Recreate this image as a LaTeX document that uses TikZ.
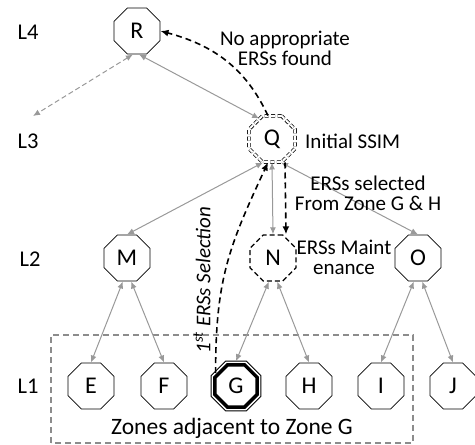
\documentclass[tikz,border=0pt]{standalone}
\usepackage{fontspec}
\setmainfont{Carlito}
\usetikzlibrary{shapes.geometric,arrows.meta}
\definecolor{garr}{gray}{0.6}
\definecolor{gbox}{gray}{0.55}
\begin{document}
\begin{tikzpicture}[x=1pt,y=1pt,
  oct/.style={regular polygon, regular polygon sides=8, draw, line width=0.8pt,
    minimum size=50pt, inner sep=0pt, font=\fontsize{24}{26}\selectfont},
  lbl/.style={font=\fontsize{21}{20}\selectfont, align=center, inner sep=0pt},
  garrow/.style={draw=garr, line width=1pt, {Latex[length=7pt,width=6pt]}-{Latex[length=7pt,width=6pt]}},
  barrow/.style={draw=black, line width=1.6pt, dash pattern=on 6pt off 4pt, -{Latex[length=8pt,width=7pt]}},
]
\useasboundingbox (0,0) rectangle (475,445);

% zone box
\draw[gbox, line width=1.2pt, dash pattern=on 6pt off 4pt] (51,2) rectangle (413,110);
\node[lbl, font=\fontsize{23.5}{24}\selectfont] (zlbl) at (232,17) {Zones adjacent to Zone G};

% level labels
\node[lbl, font=\fontsize{22.5}{24}\selectfont] (L4) at (28,413) {L4};
\node[lbl, font=\fontsize{22.5}{24}\selectfont] (L3) at (28,304) {L3};
\node[lbl, font=\fontsize{22.5}{24}\selectfont] (L2) at (30,186) {L2};
\node[lbl, font=\fontsize{22.5}{24}\selectfont] (L1) at (28,59) {L1};

% nodes
\node[oct] (R) at (137,414) {R};
\node[oct, line width=0.8pt, double, double distance=2pt, dash pattern=on 4pt off 2.5pt] (Q) at (272,306) {Q};
\node[oct] (M) at (127,187) {M};
\node[oct, line width=1.2pt, dash pattern=on 5pt off 3pt] (N) at (273,187) {N};
\node[oct] (O) at (418,187) {O};
\node[oct] (E) at (91,59) {E};
\node[oct] (F) at (164,59) {F};
\node[oct, line width=3.5pt, minimum size=45.5pt] (G) at (236,59) {G};
\draw[line width=0.9pt] (G.center) +(22.5:27pt) -- +(67.5:27pt) -- +(112.5:27pt) -- +(157.5:27pt)
  -- +(202.5:27pt) -- +(247.5:27pt) -- +(292.5:27pt) -- +(337.5:27pt) -- cycle;
\node[oct] (H) at (309,59) {H};
\node[oct] (I) at (381,59) {I};
\node[oct] (J) at (453,59) {J};

% gray connectors
\coordinate (Lend) at (33,329);
\draw[garrow, dash pattern=on 5pt off 3pt] (R.-100) -- (Lend);
\draw[garrow] (R.-85) -- (Q.122);
\draw[garrow] ([xshift=-9pt]Q.south) -- (M.north);
\draw[garrow] (Q.south) -- (N.north);
\draw[garrow] ([xshift=9pt]Q.south) -- (O.north);
\draw[garrow] (M.-100) -- (E.north);
\draw[garrow] (M.-80) -- (F.north);
\draw[garrow] (N.-100) -- ([yshift=2pt]G.north);
\draw[garrow] (N.-80) -- (H.north);
\draw[garrow] (O.-100) -- (I.north);
\draw[garrow] (O.-80) -- (J.north);

% black dashed connectors
\draw[barrow] (Q.100) to[out=115, in=-15] (R.east);
\draw[barrow] ([xshift=13pt]Q.south) -- ([xshift=13pt]N.north);
\draw[barrow] ([yshift=1pt]G.150) to[out=90, in=-115, looseness=1.1] ([xshift=-4pt]Q.south);

% labels
\node[lbl] (tNo) at (285,397) {No appropriate\\ERSs found};
\node[lbl, anchor=west] (tInit) at (305,304) {Initial SSIM};
\node[lbl] (tSel) at (368,252) {ERSs selected\\From Zone G \& H};
\node[lbl] (tMaint) at (344,188) {ERSs Maint\\enance};
\node[lbl, rotate=90, font=\itshape\fontsize{21}{22}\selectfont] (tFirst) at (202,165) {1\textsuperscript{st} ERSs Selection};
\end{tikzpicture}
\end{document}
